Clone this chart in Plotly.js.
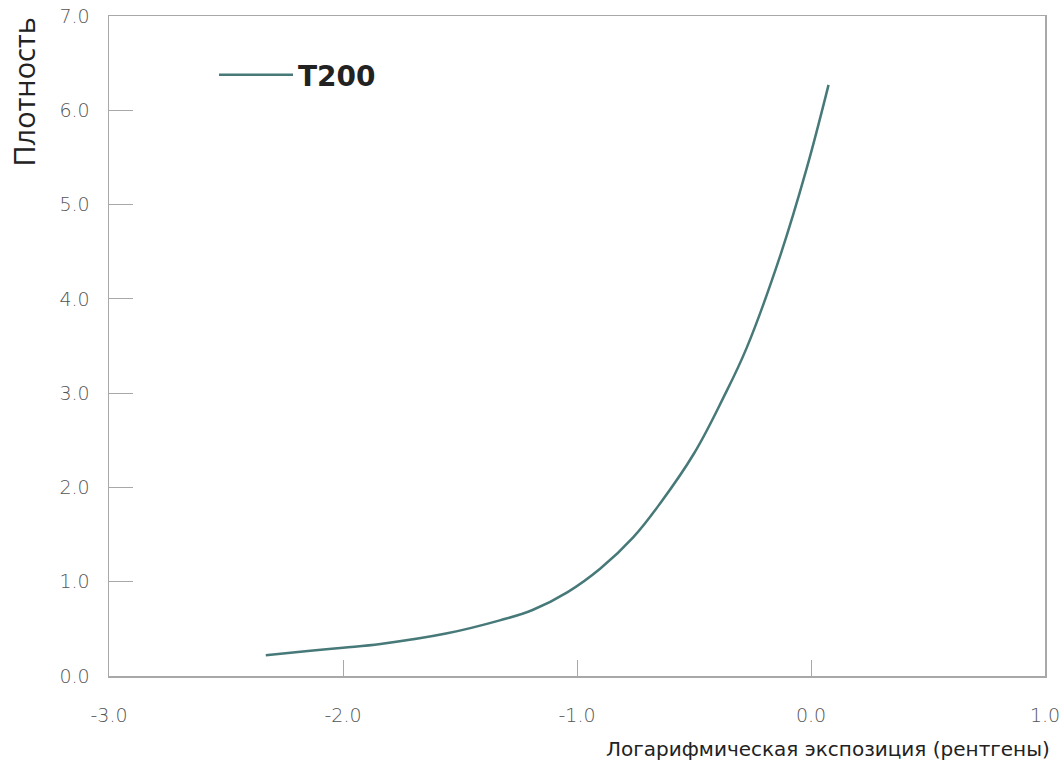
<!DOCTYPE html>
<html>
<head>
<meta charset="utf-8">
<script src="https://cdn.plot.ly/plotly-3.0.1.min.js"></script>
<style>html,body{margin:0;padding:0;background:#fff;}#chart{width:1062px;height:769px;}</style>
</head>
<body>
<div id="chart"></div>
<script>
const seriesName = "T200";
const exposure = [-2.33, -2.15, -2.0, -1.84, -1.56, -1.33, -1.19, -1.04, -0.90, -0.76, -0.645, -0.50, -0.375, -0.275, -0.13, -0.02, 0.075];
const density  = [0.22, 0.265, 0.30, 0.34, 0.45, 0.59, 0.70, 0.89, 1.14, 1.47, 1.83, 2.36, 2.95, 3.48, 4.47, 5.37, 6.27];
const xTickVals = [-3, -2, -1, 0, 1];
const xTickText = ["-3.0", "-2.0", "-1.0", "0.0", "1.0"];
const yTickVals = [0, 1, 2, 3, 4, 5, 6, 7];
const yTickText = ["0.0", "1.0", "2.0", "3.0", "4.0", "5.0", "6.0", "7.0"];
const xTitle = "Логарифмическая экспозиция (рентгены)";
const yTitle = "Плотность";

const tickFont = {family: "DejaVu Sans, sans-serif", size: 19, color: "#555", weight: 300};
const titleFamily = "Open Sans, sans-serif";

Plotly.newPlot("chart", [{
  x: exposure, y: density, type: "scatter", mode: "lines", name: seriesName,
  line: {color: "#477979", width: 2.5, shape: "spline", smoothing: 1.1}
}], {
  width: 1062, height: 769,
  margin: {l: 109, r: 17, t: 16, b: 93},
  paper_bgcolor: "#fff", plot_bgcolor: "#fff",
  font: {family: titleFamily, color: "#444"},
  showlegend: true,
  legend: {x: 0.1122, y: 0.9106, xanchor: "left", yanchor: "middle", itemwidth: 74,
           font: {family: "DejaVu Sans, sans-serif", size: 28, color: "#222", weight: 600}, bgcolor: "rgba(0,0,0,0)"},
  xaxis: {range: [-3, 1], tickvals: xTickVals, ticktext: xTickText,
          showline: true, linecolor: "#a8a8a8", linewidth: 1.5, mirror: true,
          ticks: "inside", ticklen: 16, tickcolor: "#a8a8a8", tickwidth: 1,
          showgrid: false, zeroline: false, ticklabelstandoff: 22,
          tickfont: tickFont},
  yaxis: {range: [0, 7], tickvals: yTickVals, ticktext: yTickText,
          showline: true, linecolor: "#a8a8a8", linewidth: 1.5, mirror: true,
          ticks: "inside", ticklen: 24, tickcolor: "#a8a8a8", tickwidth: 1,
          showgrid: false, zeroline: false, ticklabelstandoff: 14,
          tickfont: tickFont},
  annotations: [
    {text: xTitle, xref: "paper", yref: "paper", x: 1.007, y: 0, xanchor: "right", yanchor: "top",
     yshift: -59, showarrow: false, font: {family: "DejaVu Sans, sans-serif", size: 20, color: "#222"}},
    {text: yTitle, xref: "paper", yref: "paper", x: 0, y: 1, xanchor: "center", yanchor: "top",
     xshift: -86, yshift: 0, textangle: -90, showarrow: false, font: {family: titleFamily, size: 29, color: "#222"}}
  ]
}, {displayModeBar: false, staticPlot: true});
</script>
</body>
</html>
